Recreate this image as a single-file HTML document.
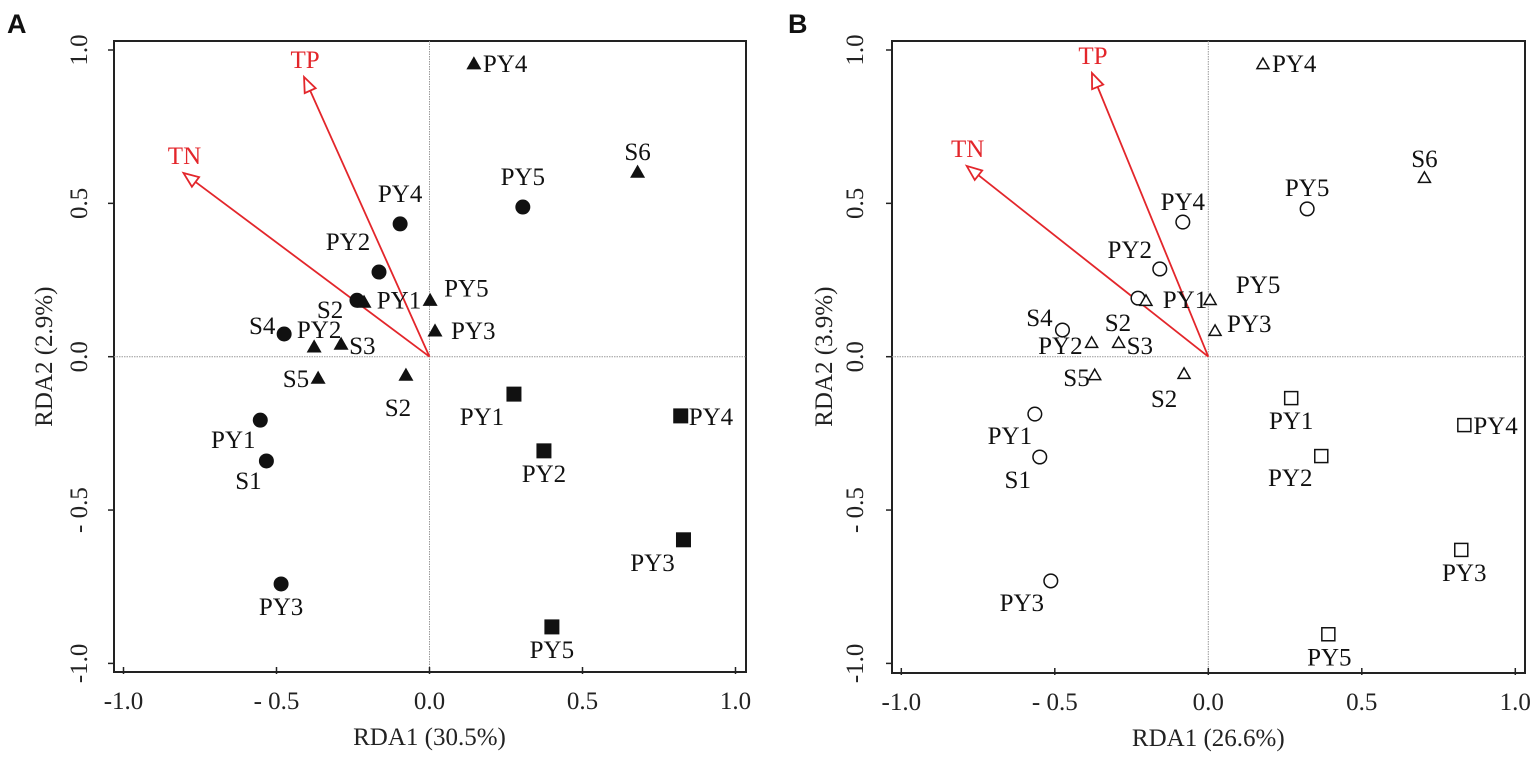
<!DOCTYPE html>
<html><head><meta charset="utf-8"><style>
html,body{margin:0;padding:0;background:#fff;}
svg{display:block;font-family:"Liberation Serif",serif;}
</style></head><body>
<svg id="fig" width="1535" height="761" viewBox="0 0 1535 761" xmlns="http://www.w3.org/2000/svg"></svg>
<script>
// ---- Panel A data ----
const aCircLabels=["PY4","PY2","PY1","S4","PY5","PY1","S1","PY3"];
const aCircX=[-0.096,-0.165,-0.237,-0.475,0.305,-0.553,-0.533,-0.485];
const aCircY=[0.433,0.276,0.184,0.074,0.488,-0.207,-0.340,-0.741];
const aTriLabels=["PY4","S6","PY5","PY3","S2","PY2","S3","S5","S2"];
const aTriX=[0.145,0.680,0.002,0.018,-0.214,-0.377,-0.289,-0.364,-0.077];
const aTriY=[0.955,0.602,0.184,0.084,0.178,0.032,0.041,-0.070,-0.060];
const aSqLabels=["PY1","PY2","PY4","PY3","PY5"];
const aSqX=[0.276,0.374,0.821,0.830,0.400];
const aSqY=[-0.122,-0.307,-0.193,-0.597,-0.881];
const aEnvLabels=["TP","TN"];
const aEnvX=[-0.410,-0.804];
const aEnvY=[0.912,0.599];
// ---- Panel B data ----
const bCircLabels=["PY4","PY2","PY1","S4","PY5","PY1","S1","PY3"];
const bCircX=[-0.083,-0.158,-0.229,-0.475,0.322,-0.565,-0.549,-0.513];
const bCircY=[0.439,0.286,0.191,0.087,0.482,-0.187,-0.327,-0.731];
const bTriLabels=["PY4","S6","PY5","PY3","S2","PY2","S3","S5","S2"];
const bTriX=[0.178,0.704,0.006,0.022,-0.203,-0.380,-0.292,-0.370,-0.079];
const bTriY=[0.954,0.583,0.185,0.084,0.182,0.045,0.045,-0.060,-0.056];
const bSqLabels=["PY1","PY2","PY4","PY3","PY5"];
const bSqX=[0.270,0.368,0.834,0.824,0.391];
const bSqY=[-0.135,-0.324,-0.223,-0.630,-0.905];
const bEnvLabels=["TP","TN"];
const bEnvX=[-0.379,-0.787];
const bEnvY=[0.925,0.622];
const tickVals=[-1.0,-0.5,0.0,0.5,1.0];
const tickText=["-1.0","- 0.5","0.0","0.5","1.0"];

const NS="http://www.w3.org/2000/svg";
const svg=document.getElementById('fig');
function mk(tag,attrs,parent){const e=document.createElementNS(NS,tag);for(const k in attrs)e.setAttribute(k,attrs[k]);(parent||svg).appendChild(e);return e;}

const circOff=[[0,-22,"middle"],[-31,-22,"middle"],[42,8,"middle"],[-22,0,"middle"],[0,-22,"middle"],[-27,28,"middle"],[-18,28,"middle"],[0,31,"middle"]];
const triOff=[[9,8,"start"],[0,-12,"middle"],[14,-4,"start"],[16,8,"start"],[-34,16,"middle"],[5,-9,"middle"],[8,10,"start"],[-9,9,"end"],[-8,41,"middle"]];
const sqOff=[[-32,31,"middle"],[0,31,"middle"],[8,9,"start"],[-31,31,"middle"],[0,31,"middle"]];
const bCircOff=[[0,-12,"middle"],[-30,-11,"middle"],[47,10,"middle"],[-23,-4,"middle"],[0,-13,"middle"],[-25,30,"middle"],[-22,31,"middle"],[-29,30,"middle"]];
const bTriOff=[[9,8,"start"],[0,-11,"middle"],[48,-7,"middle"],[12,1,"start"],[-28,30,"middle"],[-9,11,"end"],[8,11,"start"],[-5,11,"end"],[-20,33,"middle"]];
const bSqOff=[[0,31,"middle"],[-31,30,"middle"],[9,9,"start"],[3,31,"middle"],[1,31,"middle"]];

function panel(p){
  const g=mk('g',{});
  
  
  const sx=v=>p.x0+v*p.ux, sy=v=>p.y0-v*p.uy;
  const fr=mk('rect',{x:p.L,y:p.T,width:p.R-p.L,height:p.B-p.T,fill:'none',stroke:'#222','stroke-width':2},g);
  
  const zv=mk('line',{x1:sx(0),x2:sx(0),y1:p.T,y2:p.B,stroke:'#999','stroke-width':1,'stroke-dasharray':'1.5 1'},g);
  
  const zh=mk('line',{x1:p.L,x2:p.R,y1:sy(0),y2:sy(0),stroke:'#999','stroke-width':1,'stroke-dasharray':'1.5 1'},g);
  
  tickVals.forEach((v,i)=>{
    const tx=mk('line',{x1:sx(v),x2:sx(v),y1:p.B-5,y2:p.B+2,stroke:'#222','stroke-width':1.5},g);
    
    const tl=mk('text',{x:sx(v),y:p.B+37,'text-anchor':'middle','font-size':25,fill:'#222'},g);
    tl.textContent=tickText[i];
    
    const ty=mk('line',{x1:p.L-6,x2:p.L,y1:sy(v),y2:sy(v),stroke:'#222','stroke-width':1.5},g);
    
    const yl=mk('text',{x:0,y:0,'text-anchor':'middle','font-size':25,fill:'#222',transform:`translate(${p.L-p.yto},${sy(v)}) rotate(-90)`},g);
    yl.textContent=tickText[i];
    
  });
  const xt=mk('text',{x:sx(0),y:p.B+73,'text-anchor':'middle','font-size':25,fill:'#222'},g);
  xt.textContent=p.xtitle;
  const yt=mk('text',{x:0,y:0,'text-anchor':'middle','font-size':25,fill:'#222',transform:`translate(${p.L-p.yti},${sy(0)}) rotate(-90)`},g);
  yt.textContent=p.ytitle;
  const pl=mk('text',{x:p.lx,y:33,'font-size':27,'font-weight':'bold','font-family':'Liberation Sans, sans-serif',fill:'#111'},g);
  pl.textContent=p.letter;
  p.envL.forEach((lab,i)=>{
    const x1=sx(0),y1=sy(0),x2=sx(p.envX[i]),y2=sy(p.envY[i]);
    const dx=x2-x1,dy=y2-y1,len=Math.hypot(dx,dy),ux=dx/len,uy=dy/len;
    const hl=15,hw=6,bx=x2-ux*hl,by=y2-uy*hl;
    const ln=mk('line',{x1:x1,y1:y1,x2:bx,y2:by,stroke:'#e3262b','stroke-width':1.8},g);
    
    const hd=mk('polygon',{points:`${x2},${y2} ${bx-uy*hw},${by+ux*hw} ${bx+uy*hw},${by-ux*hw}`,fill:'#fff',stroke:'#e3262b','stroke-width':1.8},g);
    
    const tl=mk('text',{x:x2+1,y:y2-9,'text-anchor':'middle','font-size':25,fill:'#e3262b'},g);
    tl.textContent=lab;
  });
  const fill=p.filled?'#111':'#fff', sw=p.filled?0:1.5;
  function label(x,y,t,o){const e=mk('text',{x:x+o[0],y:y+o[1],'text-anchor':o[2],'font-size':25,fill:'#111'},g);e.textContent=t;}
  p.cL.forEach((t,i)=>{const x=sx(p.cX[i]),y=sy(p.cY[i]);
    const c=mk('circle',{cx:x,cy:y,r:p.filled?7.5:6.8,fill:fill,stroke:'#111','stroke-width':sw},g);
    
    label(x,y,t,p.cOff[i]);});
  p.tL.forEach((t,i)=>{const x=sx(p.tX[i]),y=sy(p.tY[i]);const s=p.filled?7.5:6;
    const tr=mk('polygon',{points:`${x},${y-s} ${x-s},${y+s*0.75} ${x+s},${y+s*0.75}`,fill:fill,stroke:'#111','stroke-width':sw},g);
    
    label(x,y,t,p.tOff[i]);});
  p.sL.forEach((t,i)=>{const x=sx(p.sX[i]),y=sy(p.sY[i]);const s=p.filled?7.5:6.5;
    const r=mk('rect',{x:x-s,y:y-s,width:2*s,height:2*s,fill:fill,stroke:'#111','stroke-width':sw},g);
    
    label(x,y,t,p.sOff[i]);});
}
panel({name:'panel-a',letter:'A',lx:7,yto:27,yti:62,L:114,T:41,R:746,B:672,x0:429.5,y0:356.7,ux:306,uy:306.7,filled:true,
  xtitle:'RDA1 (30.5%)',ytitle:'RDA2 (2.9%)',
  cL:aCircLabels,cX:aCircX,cY:aCircY,cOff:circOff,tL:aTriLabels,tX:aTriX,tY:aTriY,tOff:triOff,
  sL:aSqLabels,sX:aSqX,sY:aSqY,sOff:sqOff,envL:aEnvLabels,envX:aEnvX,envY:aEnvY});
panel({name:'panel-b',letter:'B',lx:788,yto:29,yti:60,L:892,T:41,R:1525,B:673,x0:1208.3,y0:356.7,ux:307,uy:306.7,filled:false,
  xtitle:'RDA1 (26.6%)',ytitle:'RDA2 (3.9%)',
  cL:bCircLabels,cX:bCircX,cY:bCircY,cOff:bCircOff,tL:bTriLabels,tX:bTriX,tY:bTriY,tOff:bTriOff,
  sL:bSqLabels,sX:bSqX,sY:bSqY,sOff:bSqOff,envL:bEnvLabels,envX:bEnvX,envY:bEnvY});
</script>
</body></html>
